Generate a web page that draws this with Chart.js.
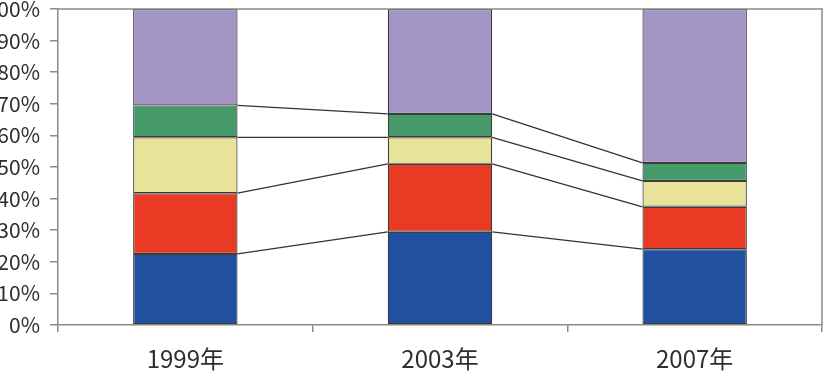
<!DOCTYPE html>
<html>
<head>
<meta charset="utf-8">
<script src="https://cdn.jsdelivr.net/npm/chart.js@4.4.1/dist/chart.umd.min.js"></script>
<style>
  html, body { margin: 0; padding: 0; background: #fff; }
  #wrap { width: 824px; height: 386px; }
</style>
</head>
<body>
<div id="wrap"><canvas id="shares" width="824" height="386"></canvas></div>
<script>
// data (percent of total per year)
var years = ['1999年', '2003年', '2007年'];
var blueVals = [22.5, 29.5, 24.0];
var redVals = [19.2, 21.5, 13.4];
var yellowVals = [17.7, 8.4, 8.2];
var greenVals = [10.1, 7.4, 5.7];
var purpleVals = [30.5, 33.2, 48.7];
var yTicks = [0, 10, 20, 30, 40, 50, 60, 70, 80, 90, 100];

var axisGrey = '#8a8a8a';
var textGrey = '#2e2e2e';

// connecting lines between the tops of the segments
var seriesLines = {
    id: 'seriesLines',
    afterDatasetsDraw: function (chart) {
        var ctx = chart.ctx;
        ctx.save();
        ctx.strokeStyle = '#333333';
        ctx.lineWidth = 1.3;
        for (var d = 0; d < 4; d++) {
            var bars = chart.getDatasetMeta(d).data;
            for (var i = 0; i < bars.length - 1; i++) {
                var a = bars[i], b = bars[i + 1];
                ctx.beginPath();
                ctx.moveTo(a.x + a.width / 2, a.y);
                ctx.lineTo(b.x - b.width / 2, b.y);
                ctx.stroke();
            }
        }
        ctx.restore();
    }
};

// top and right edge of the plot frame
var frame = {
    id: 'frame',
    afterDraw: function (chart) {
        var c = chart.chartArea, ctx = chart.ctx;
        ctx.save();
        ctx.strokeStyle = axisGrey;
        ctx.lineWidth = 1.5;
        ctx.beginPath();
        ctx.moveTo(c.left, c.top);
        ctx.lineTo(c.right, c.top);
        ctx.lineTo(c.right, c.bottom);
        ctx.stroke();
        ctx.restore();
    }
};

function ds(label, vals, color) {
    return {
        label: label,
        data: vals,
        backgroundColor: color,
        borderColor: '#3c3c3c',
        borderWidth: 1.2,
        borderSkipped: false,
        categoryPercentage: 1,
        barPercentage: 0.41
    };
}

var ctx = document.getElementById('shares').getContext('2d');
var sharesChart = new Chart(ctx, {
    type: 'bar',
    data: {
        labels: years,
        datasets: [
            ds('blue', blueVals, '#2150a0'),
            ds('red', redVals, '#e93a24'),
            ds('yellow', yellowVals, '#e9e29b'),
            ds('green', greenVals, '#469a69'),
            ds('purple', purpleVals, '#a394c6')
        ]
    },
    options: {
        responsive: false,
        animation: false,
        layout: { padding: { top: 9, right: 2, left: 0, bottom: 0 } },
        plugins: {
            legend: { display: false },
            tooltip: { enabled: false }
        },
        scales: {
            x: {
                stacked: true,
                afterFit: function (scale) {
                    scale.height = 61;
                    scale.paddingLeft = 0;
                    scale.paddingRight = 0;
                },
                grid: {
                    offset: true,
                    drawOnChartArea: false,
                    tickLength: 7,
                    color: axisGrey,
                    lineWidth: 1.5
                },
                border: { color: axisGrey, width: 1.5 },
                ticks: {
                    padding: 12,
                    color: textGrey,
                    font: { family: '"Noto Sans CJK JP", "Noto Sans", sans-serif', size: 24 }
                }
            },
            y: {
                stacked: true,
                min: 0,
                max: 100,
                afterFit: function (scale) {
                    scale.width = 58;
                    scale.paddingTop = 0;
                    scale.paddingBottom = 0;
                },
                afterBuildTicks: function (scale) {
                    scale.ticks = yTicks.map(function (v) { return { value: v }; });
                },
                grid: {
                    drawOnChartArea: false,
                    tickLength: 8,
                    color: axisGrey,
                    lineWidth: 1.5
                },
                border: { color: axisGrey, width: 1.5 },
                ticks: {
                    padding: 10,
                    color: textGrey,
                    font: { family: '"Noto Sans CJK JP", "Noto Sans", sans-serif', size: 21 },
                    callback: function (v) { return v + '%'; }
                }
            }
        }
    },
    plugins: [seriesLines, frame]
});
</script>
</body>
</html>
